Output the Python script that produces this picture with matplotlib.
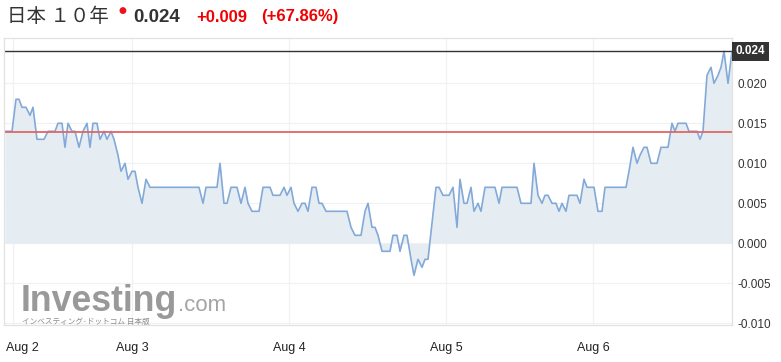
import numpy as np
import matplotlib
matplotlib.use('Agg')
from matplotlib import pyplot as plt
from matplotlib import transforms

plt.rcParams['font.family'] = ['Liberation Sans', 'Noto Sans CJK JP', 'DejaVu Sans']

# 日本10年国債利回り (時系列の位置, 利回り)
t = [5, 12, 16, 19, 22, 26, 30, 33, 37, 44, 48, 55, 58, 62, 65, 68, 72, 75, 79, 83,
     87, 90, 93, 97, 100, 104, 107, 111, 114, 118, 121, 125, 128, 132, 135, 138, 142, 146, 150, 199,
     203, 206, 217, 220, 224, 227, 231, 237, 241, 245, 248, 252, 259, 263, 270, 273, 280, 284, 287, 291,
     294, 298, 302, 305, 308, 312, 316, 319, 322, 326, 347, 351, 355, 361, 365, 368, 372, 375, 378, 382,
     390, 393, 397, 400, 404, 407, 411, 414, 418, 422, 425, 428, 436, 439, 443, 449, 453, 457, 460, 464,
     467, 471, 474, 478, 481, 485, 495, 499, 502, 517, 521, 531, 534, 538, 542, 545, 548, 552, 556, 559,
     562, 566, 569, 577, 580, 584, 587, 594, 598, 602, 605, 626, 629, 633, 637, 640, 644, 647, 651, 657,
     661, 668, 672, 675, 678, 686, 689, 697, 700, 703, 707, 711, 714, 718, 721, 724, 728, 732]
yld = [0.014, 0.014, 0.018, 0.018, 0.017, 0.017, 0.016, 0.017, 0.013, 0.013,
       0.014, 0.014, 0.015, 0.015, 0.012, 0.015, 0.014, 0.014, 0.012, 0.014,
       0.015, 0.012, 0.015, 0.015, 0.013, 0.014, 0.013, 0.014, 0.013, 0.011,
       0.009, 0.010, 0.008, 0.009, 0.009, 0.007, 0.005, 0.008, 0.007, 0.007,
       0.005, 0.007, 0.007, 0.010, 0.005, 0.005, 0.007, 0.007, 0.005, 0.007,
       0.005, 0.004, 0.004, 0.007, 0.007, 0.006, 0.006, 0.007, 0.006, 0.007,
       0.005, 0.004, 0.005, 0.005, 0.004, 0.007, 0.007, 0.005, 0.005, 0.004,
       0.004, 0.002, 0.001, 0.001, 0.004, 0.005, 0.002, 0.002, 0.001, -0.001,
       -0.001, 0.001, 0.001, -0.001, 0.001, 0.001, -0.002, -0.004, -0.002, -0.003,
       -0.002, -0.002, 0.007, 0.007, 0.006, 0.006, 0.007, 0.002, 0.008, 0.005,
       0.005, 0.007, 0.004, 0.005, 0.004, 0.007, 0.007, 0.005, 0.007, 0.007,
       0.005, 0.005, 0.010, 0.006, 0.005, 0.006, 0.006, 0.005, 0.005, 0.004,
       0.005, 0.004, 0.006, 0.006, 0.005, 0.008, 0.007, 0.007, 0.004, 0.004,
       0.007, 0.007, 0.009, 0.012, 0.010, 0.011, 0.012, 0.012, 0.010, 0.010,
       0.012, 0.012, 0.015, 0.014, 0.015, 0.015, 0.014, 0.014, 0.013, 0.014,
       0.021, 0.022, 0.020, 0.021, 0.022, 0.024, 0.020, 0.024]
prev_close = 0.0139
last = 0.024
day_pos = [13, 132, 289, 446, 593]
day_labels = ['Aug 2', 'Aug 3', 'Aug 4', 'Aug 5', 'Aug 6']
y_ticks = [-0.010, -0.005, 0.000, 0.005, 0.010, 0.015, 0.020]

fig = plt.figure(figsize=(7.81, 3.62), dpi=100)
ax = fig.add_axes([4 / 781, 1 - 325 / 362, 728 / 781, 287 / 362])

ax.fill_between(t, yld, 0, color='#e5edf3', lw=0)
ax.plot(t, yld, color='#82a9d8', lw=1.2)
ax.axhline(prev_close, color='#e06666', lw=1.3)
ax.axhline(last, color='#333333', lw=1.0)

ax.set_xlim(4, 732)
ax.set_ylim(-0.01021, 0.02566)
ax.set_yticks(y_ticks)
ax.set_yticklabels(['%.3f' % v for v in y_ticks])
ax.set_xticks(day_pos)
ax.set_xticklabels(day_labels)
ax.yaxis.tick_right()
ax.tick_params(axis='y', length=0, pad=4, labelsize=8.5, labelcolor='#333333')
ax.tick_params(axis='x', length=0, pad=12, labelsize=9, labelcolor='#222222')
lab0 = ax.get_xticklabels()[0]
lab0.set_ha('left')
lab0.set_transform(lab0.get_transform() + transforms.ScaledTranslation(-7 / 100, 0, fig.dpi_scale_trans))
ax.grid(True, color='#f1f1f1', lw=0.9)
ax.set_axisbelow(True)
for s in ax.spines.values():
    s.set_color('#e2e2e2')
    s.set_linewidth(0.9)

# 最新値ラベル
trans = transforms.blended_transform_factory(ax.transAxes, ax.transData)
ax.text(1.0 + 4 / 728, last, '0.024', transform=trans, ha='left', va='center', fontsize=8.5,
        fontweight='bold', color='white', clip_on=False,
        bbox=dict(boxstyle='square,pad=0.3', fc='#333333', ec='none'))

# タイトル
fig.text(7 / 781, 1 - 17 / 362, '日本 １０年', family=['Noto Sans CJK JP'], fontsize=14,
         color='#333333', va='center')
fig.text(122 / 781, 1 - 11 / 362, '●', fontsize=6.5, color='#e8141e', ha='center', va='center',
         family=['DejaVu Sans'])
fig.text(133 / 781, 1 - 17 / 362, '0.024', fontsize=13.5, fontweight='bold', color='#333333', va='center')
fig.text(196 / 781, 1 - 17 / 362, '+0.009', fontsize=12, fontweight='bold', color='#f00000', va='center')
fig.text(261 / 781, 1 - 17 / 362, '(+67.86%)', fontsize=12, fontweight='bold', color='#f00000', va='center')

# ロゴ
fig.text(21 / 781, 1 - 311 / 362, 'Investing', fontsize=25.7, fontweight='bold', color='#8e8e8e',
         va='baseline', alpha=0.9)
fig.text(177.5 / 781, 1 - 311 / 362, '.com', fontsize=16, color='#9a9a9a', va='baseline', alpha=0.9)
fig.text(22 / 781, 1 - 322 / 362, 'インベスティング･ドットコム 日本版', family=['Noto Sans CJK JP'],
         fontsize=5.5, color='#8c8c8c', va='center')

plt.savefig('out.png', dpi=100)
